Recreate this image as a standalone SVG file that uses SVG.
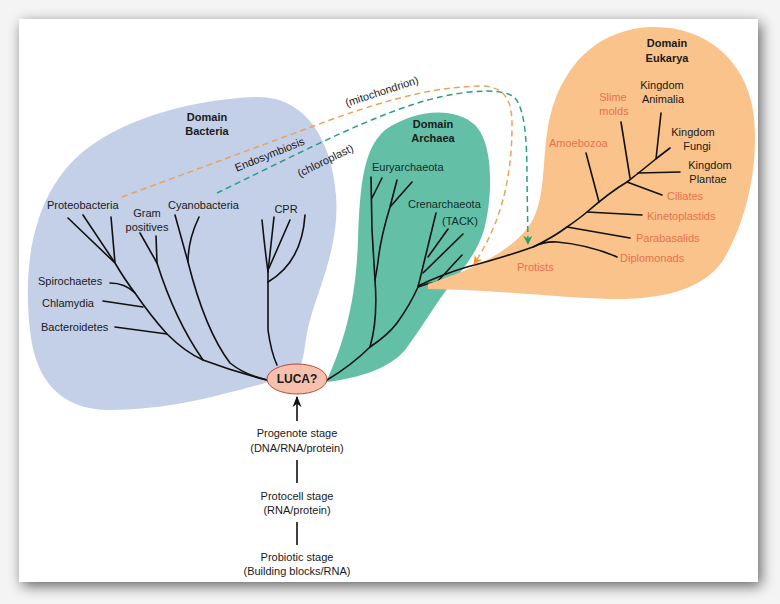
<svg xmlns="http://www.w3.org/2000/svg" width="780" height="604" viewBox="0 0 780 604">
<defs>
<filter id="shadow" x="-10%" y="-10%" width="120%" height="120%">
<feGaussianBlur in="SourceAlpha" stdDeviation="7"/>
<feOffset dx="3" dy="4" result="b"/>
<feComponentTransfer><feFuncA type="linear" slope="0.6"/></feComponentTransfer>
<feMerge><feMergeNode/><feMergeNode in="SourceGraphic"/></feMerge>
</filter>
<marker id="arrBlack" viewBox="0 0 10 10" refX="9" refY="5" markerWidth="7" markerHeight="7" orient="auto"><path d="M0,1 L10,5 L0,9 L3,5 Z" fill="#111"/></marker>
<marker id="arrOrange" viewBox="0 0 10 10" refX="9" refY="5" markerWidth="6" markerHeight="6" orient="auto"><path d="M0,0 L10,5 L0,10 L3,5 Z" fill="#f0962f"/></marker>
<marker id="arrGreen" viewBox="0 0 10 10" refX="9" refY="5" markerWidth="6" markerHeight="6" orient="auto"><path d="M0,0 L10,5 L0,10 L3,5 Z" fill="#2e9e63"/></marker>
</defs>
<style>
text{font-family:"Liberation Sans",Arial,sans-serif;font-size:11px;fill:#1a1a1a}
.b{font-weight:bold}
.c{text-anchor:middle}
.ar{fill:#0f2e29}
.eu{fill:#e8704f}
.tree{fill:none;stroke:#111;stroke-width:1.6;stroke-linecap:round;stroke-linejoin:round}
.dash{fill:none;stroke-width:1.5;stroke-dasharray:6 4}
</style>
<rect x="0" y="0" width="780" height="604" fill="#f4f4f4"/>
<rect x="19" y="19" width="739" height="563" fill="#ffffff" filter="url(#shadow)"/>

<g id="bacteria">
<path d="M30,330 C22,260 35,190 85,150 C130,115 200,99 255,97 C305,95 332,140 336,195 C340,245 318,290 310,320 C303,345 306,362 296,372 L262,384 C220,395 170,410 110,410 C60,410 35,380 30,330 Z" fill="#c4cfe8"/>
<text class="b c" x="207" y="121">Domain</text>
<text class="b c" x="207" y="135">Bacteria</text>
<text x="47" y="209">Proteobacteria</text>
<text class="c" x="147" y="217">Gram</text>
<text class="c" x="147" y="231">positives</text>
<text x="168" y="209">Cyanobacteria</text>
<text class="c" x="286" y="213">CPR</text>
<text x="38" y="285">Spirochaetes</text>
<text x="42" y="307">Chlamydia</text>
<text x="41" y="331">Bacteroidetes</text>
<g class="tree">
<path d="M68,218 L115,263 Q125,280 135,293 Q150,315 167,334 Q185,352 203,360 Q235,372 267,380"/>
<path d="M83,215 L115,263"/>
<path d="M111,217 L115,263"/>
<path d="M110,283 Q125,283 135,293"/>
<path d="M103,301 L143,307"/>
<path d="M115,327 L167,334"/>
<path d="M140,233 L157,263 Q175,320 203,360"/>
<path d="M156,236 L157,263"/>
<path d="M175,215 L188,262 Q205,330 230,363 Q245,375 267,380"/>
<path d="M199,217 Q188,240 188,262"/>
<path d="M262,220 Q265,250 268,272"/>
<path d="M274,217 L268,272"/>
<path d="M290,220 L269,268"/>
<path d="M305,215 Q302,262 268,282"/>
<path d="M268,268 L268,330 Q271,352 277,365"/>
</g>
</g>

<g id="archaea">
<path d="M327,380 C345,340 356,300 358,240 C360,190 362,150 385,130 C410,112 452,104 475,125 C495,145 492,200 484,230 C476,255 462,270 450,285 C435,305 420,330 405,350 C390,368 360,378 327,382 Z" fill="#63c0a7"/>
<text class="b c" x="433" y="128">Domain</text>
<text class="b c" x="433" y="142">Archaea</text>
<text class="ar" x="372" y="171">Euryarchaeota</text>
<text class="ar" x="408" y="208">Crenarchaeota</text>
<text class="ar" x="442" y="225">(TACK)</text>
<g class="tree">
<path d="M327,380 Q352,365 370,347 Q378,320 375,280 L372,230 L371,177"/>
<path d="M382,178 L372,198"/>
<path d="M397,180 L390,207 Q380,240 378,262 Q376,275 375,280"/>
<path d="M412,182 L390,207"/>
<path d="M370,347 Q388,335 397,323 Q410,305 418,287"/>
<path d="M436,213 L418,287"/>
<path d="M448,229 L428,257"/>
<path d="M463,234 L423,273"/>
<path d="M462,255 L437,282"/>
<path d="M418,287 Q428,283 437,282"/>
</g>
</g>

<g id="eukarya">
<path d="M428,284 C470,270 520,250 535,215 C548,185 540,140 555,100 C570,60 600,30 650,27 C705,25 745,60 753,110 C760,160 748,220 722,262 C702,290 660,300 610,299 C560,298 500,290 428,289 Z" fill="#f9c38b"/>
<text class="b c" x="667" y="47">Domain</text>
<text class="b c" x="667" y="62">Eukarya</text>
<text class="c" x="662" y="89">Kingdom</text>
<text class="c" x="663" y="103">Animalia</text>
<text class="eu c" x="613" y="101">Slime</text>
<text class="eu c" x="614" y="115">molds</text>
<text class="eu" x="549" y="147">Amoebozoa</text>
<text class="c" x="693" y="136">Kingdom</text>
<text class="c" x="697" y="150">Fungi</text>
<text class="c" x="710" y="169">Kingdom</text>
<text class="c" x="708" y="183">Plantae</text>
<text class="eu" x="667" y="200">Ciliates</text>
<text class="eu" x="647" y="220">Kinetoplastids</text>
<text class="eu" x="636" y="242">Parabasalids</text>
<text class="eu" x="620" y="262">Diplomonads</text>
<text class="eu" x="517" y="271">Protists</text>
<g class="tree">
<path d="M418,286 Q440,275 467,267 Q505,257 533,247 Q552,238 567,227 Q580,218 587,212 Q610,192 627,182 Q645,168 657,158 L670,148"/>
<path d="M533,247 Q545,241 557,242 Q590,245 617,257"/>
<path d="M567,227 L630,238"/>
<path d="M587,212 L642,215"/>
<path d="M599,202 L586,153"/>
<path d="M627,182 L662,195"/>
<path d="M630,178 L621,122"/>
<path d="M638,173 L680,172"/>
<path d="M656,159 L661,113"/>
</g>
</g>

<g id="luca">
<ellipse cx="297" cy="379" rx="30" ry="15" fill="#f6c0ac" stroke="#b24a3a" stroke-width="1"/>
<text class="b c" x="297" y="383" style="font-size:12px">LUCA?</text>
</g>

<g id="stages">
<text class="c" x="297" y="437">Progenote stage</text>
<text class="c" x="297" y="452">(DNA/RNA/protein)</text>
<text class="c" x="297" y="500">Protocell stage</text>
<text class="c" x="297" y="514">(RNA/protein)</text>
<text class="c" x="297" y="561">Probiotic stage</text>
<text class="c" x="297" y="575">(Building blocks/RNA)</text>
</g>

<g id="connectors">
<line x1="297" y1="421" x2="297" y2="397" stroke="#111" stroke-width="1.6" marker-end="url(#arrBlack)"/>
<line x1="297" y1="460" x2="297" y2="483" stroke="#111" stroke-width="1.6"/>
<line x1="297" y1="522" x2="297" y2="545" stroke="#111" stroke-width="1.6"/>
<path class="dash" stroke="#eaa35a" d="M122,197 L330,120 C400,95 440,87 480,86 C505,86 512,100 512,125 C512,180 500,225 474,264" marker-end="url(#arrOrange)"/>
<path class="dash" stroke="#2b9c8a" d="M217,193 C290,158 380,110 440,97 C470,90 505,88 515,98 C525,110 527,140 527,180 L528,244" marker-end="url(#arrGreen)"/>
<text x="0" y="0" transform="translate(383,95) rotate(-18)" class="c">(mitochondrion)</text>
<text x="0" y="0" transform="translate(271,158) rotate(-22)" class="c">Endosymbiosis</text>
<text x="0" y="0" transform="translate(327,164) rotate(-26)" class="c">(chloroplast)</text>
</g>
</svg>
